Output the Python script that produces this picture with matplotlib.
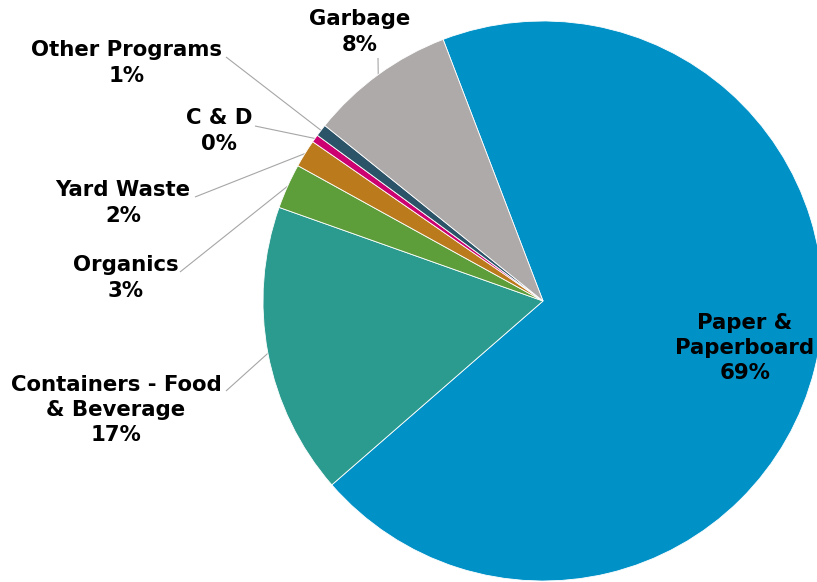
import numpy as np
import matplotlib
matplotlib.use("Agg")
import matplotlib.pyplot as plt

# Share of collected material by program (percent)
categories = ["Paper &\nPaperboard", "Containers - Food\n& Beverage", "Organics",
              "Yard Waste", "C & D", "Other Programs", "Garbage"]
shares = [69.3, 16.8, 2.6, 1.6, 0.45, 0.7, 8.4]
colors = ["#0091C7", "#2A9B8E", "#5E9E3A", "#BB7A1B", "#CC0070", "#2C5468", "#AEAAA9"]

W, H = 817, 582
fig = plt.figure(figsize=(W / 100, H / 100), dpi=100)
ax = fig.add_axes([0, 0, 1, 1])

cx, cy, R = 543, H - 301, 280
wedges, _ = ax.pie(shares, colors=colors, startangle=110.9, counterclock=False,
                   radius=R, center=(cx, cy),
                   wedgeprops=dict(edgecolor="white", linewidth=0.6))
ax.set_xlim(0, W)
ax.set_ylim(0, H)
ax.set_aspect("equal")
ax.axis("off")

total = sum(shares)
pct = [f"{round(v / total * 100):d}%" for v in shares]

# Label anchor (text centre) and leader start, in pixel coordinates from the top-left
label_pos = {
    "Paper &\nPaperboard": ((745, 348), None),
    "Containers - Food\n& Beverage": ((116, 410), (226, 391)),
    "Organics": ((126, 278), (180, 272)),
    "Yard Waste": ((123, 203), (195, 197)),
    "C & D": ((219, 131), (255, 126)),
    "Other Programs": ((127, 63), (226, 57)),
    "Garbage": ((360, 32), (378, 58)),
}

font = dict(family="DejaVu Sans", weight="bold", fontsize=15.3, color="black")

for w, name, p in zip(wedges, categories, pct):
    (tx, ty), lead = label_pos[name]
    ax.text(tx, H - ty, f"{name}\n{p}", ha="center", va="center",
            linespacing=1.34, **font)
    if lead is not None:
        mid = np.deg2rad((w.theta1 + w.theta2) / 2)
        ex, ey = cx + R * np.cos(mid), cy + R * np.sin(mid)
        ax.plot([lead[0], ex], [H - lead[1], ey], color="#A6A6A6", lw=0.8,
                solid_capstyle="butt", zorder=0.5)

fig.savefig("out.png", dpi=100)
